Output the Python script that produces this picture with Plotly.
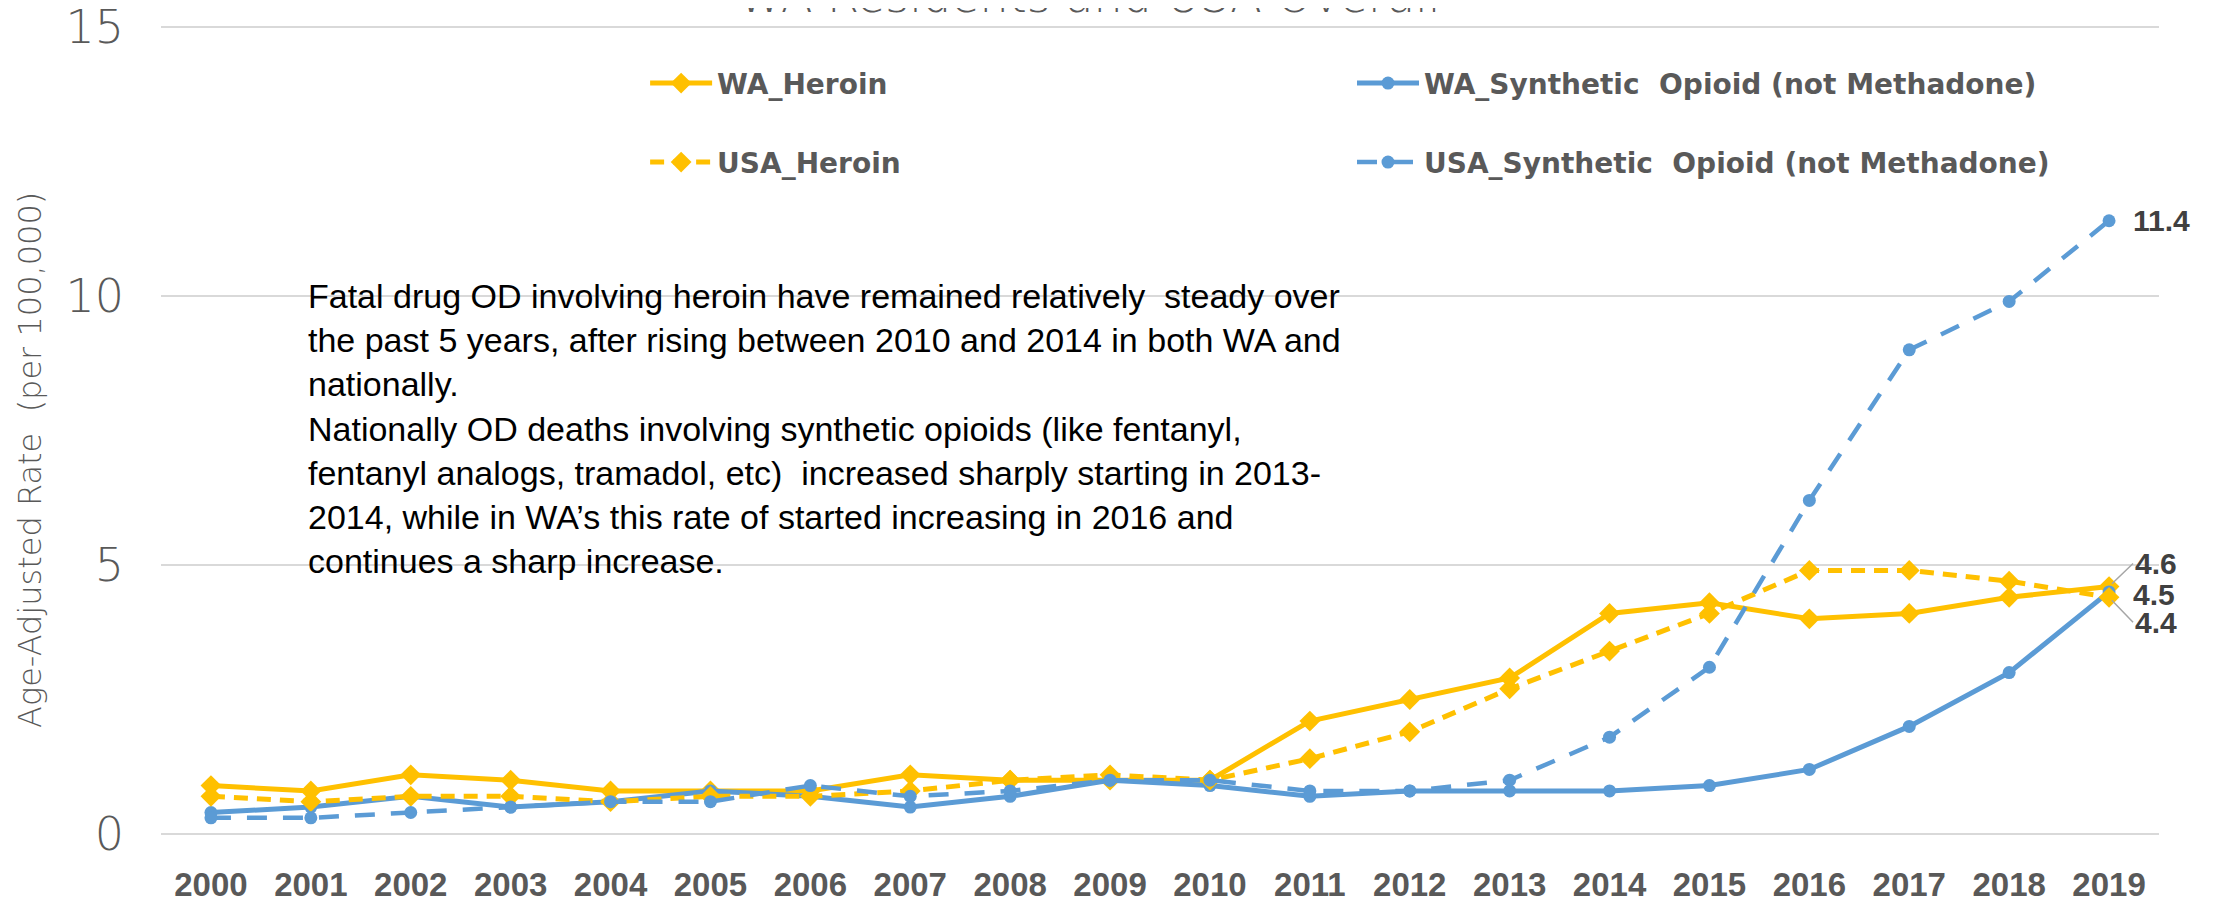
import plotly.graph_objects as go

years = ["2000", "2001", "2002", "2003", "2004", "2005", "2006", "2007", "2008", "2009",
         "2010", "2011", "2012", "2013", "2014", "2015", "2016", "2017", "2018", "2019"]

wa_heroin = [0.9, 0.8, 1.1, 1.0, 0.8, 0.8, 0.8, 1.1, 1.0, 1.0, 1.0, 2.1, 2.5, 2.9, 4.1, 4.3, 4.0, 4.1, 4.4, 4.6]
usa_heroin = [0.7, 0.6, 0.7, 0.7, 0.6, 0.7, 0.7, 0.8, 1.0, 1.1, 1.0, 1.4, 1.9, 2.7, 3.4, 4.1, 4.9, 4.9, 4.7, 4.4]
wa_synth = [0.4, 0.5, 0.7, 0.5, 0.6, 0.8, 0.7, 0.5, 0.7, 1.0, 0.9, 0.7, 0.8, 0.8, 0.8, 0.9, 1.2, 2.0, 3.0, 4.5]
usa_synth = [0.3, 0.3, 0.4, 0.5, 0.6, 0.6, 0.9, 0.7, 0.8, 1.0, 1.0, 0.8, 0.8, 1.0, 1.8, 3.1, 6.2, 9.0, 9.9, 11.4]

YELLOW = "#FFC000"
BLUE = "#5B9BD5"
GREY = "#595959"

note = ("Fatal drug OD involving heroin have remained relatively  steady over<br>"
        "the past 5 years, after rising between 2010 and 2014 in both WA and<br>"
        "nationally.<br>"
        "Nationally OD deaths involving synthetic opioids (like fentanyl,<br>"
        "fentanyl analogs, tramadol, etc)  increased sharply starting in 2013-<br>"
        "2014, while in WA\u2019s this rate of started increasing in 2016 and<br>"
        "continues a sharp increase.")

fig = go.Figure()

fig.add_trace(go.Scatter(x=years, y=wa_heroin, name="WA_Heroin", mode="lines+markers",
                         line=dict(color=YELLOW, width=5),
                         marker=dict(symbol="diamond", size=16, color=YELLOW), legend="legend"))
fig.add_trace(go.Scatter(x=years, y=wa_synth, name="WA_Synthetic  Opioid (not Methadone)", mode="lines+markers",
                         line=dict(color=BLUE, width=5),
                         marker=dict(symbol="circle", size=13, color=BLUE), legend="legend2"))
fig.add_trace(go.Scatter(x=years, y=usa_heroin, name="USA_Heroin", mode="lines+markers",
                         line=dict(color=YELLOW, width=5, dash="14px,9px"),
                         marker=dict(symbol="diamond", size=16, color=YELLOW), legend="legend3"))
fig.add_trace(go.Scatter(x=years, y=usa_synth, name="USA_Synthetic  Opioid (not Methadone)", mode="lines+markers",
                         line=dict(color=BLUE, width=4.5, dash="20px,16px"),
                         marker=dict(symbol="circle", size=13, color=BLUE), legend="legend4"))

leg_font = dict(family="DejaVu Sans", size=28, color=GREY, weight="bold")
leg_common = dict(orientation="h", font=leg_font, bgcolor="rgba(0,0,0,0)", yanchor="middle", xanchor="left",
                  itemwidth=62)

lab_font = dict(family="Liberation Sans", size=30, color="#404040", weight="bold")
light = dict(family="DejaVu Sans", weight=200, color=GREY)
last = len(years) - 1

# page body has an 8px margin, so the figure is 8px smaller than the window
fig.update_layout(
    width=2213, height=894,
    paper_bgcolor="white", plot_bgcolor="white",
    margin=dict(l=153, r=62, t=18, b=68),
    showlegend=True,
    legend=dict(x=0.2423, y=0.929, **leg_common),
    legend2=dict(x=0.5961, y=0.929, **leg_common),
    legend3=dict(x=0.2423, y=0.8312, **leg_common),
    legend4=dict(x=0.5961, y=0.8312, **leg_common),
    xaxis=dict(type="category", range=[-0.5, 19.5], autorange=False, automargin=False,
               showgrid=False, showline=False, zeroline=False, ticks="", ticklabelstandoff=28,
               tickfont=dict(family="Liberation Sans", size=33, color=GREY, weight="bold")),
    yaxis=dict(range=[0, 15.02], autorange=False, automargin=False, tickvals=[0, 5, 10, 15],
               showgrid=True, gridcolor="#D9D9D9", gridwidth=2,
               zeroline=True, zerolinecolor="#D9D9D9", zerolinewidth=2, showline=False,
               ticks="", ticklabelstandoff=36, ticklabeloverflow="allow",
               tickfont=dict(size=46, **light)),
    annotations=[
        dict(text="WA Residents and USA Overall", xref="paper", yref="paper", x=0.4645, y=1.0012,
             xanchor="center", yanchor="bottom", showarrow=False, font=dict(size=46, **light)),
        dict(text="Age-Adjusted Rate \u00a0(per 100,000)", xref="paper", yref="paper", x=-0.0656, y=0.4629,
             xanchor="center", yanchor="middle", textangle=-90, showarrow=False, font=dict(size=32, **light)),
        dict(text=note, xref="paper", yref="paper", x=0.0726, y=0.692, xanchor="left", yanchor="top",
             align="left", showarrow=False,
             font=dict(family="Liberation Sans", size=34, color="black")),
        dict(text=f"{usa_synth[-1]:.1f}", x=last, y=usa_synth[-1], xanchor="left", xshift=22,
             showarrow=False, font=lab_font),
        dict(text=f"{wa_heroin[-1]:.1f}", x=last, y=wa_heroin[-1], xanchor="left", ax=24, ay=-23,
             showarrow=True, arrowhead=0, arrowwidth=1.5, arrowcolor="#A6A6A6", standoff=4, font=lab_font),
        dict(text=f"{wa_synth[-1]:.1f}", x=last, y=wa_synth[-1], xanchor="left", xshift=22, yshift=-3,
             showarrow=False, font=lab_font),
        dict(text=f"{usa_heroin[-1]:.1f}", x=last, y=usa_heroin[-1], xanchor="left", ax=24, ay=25,
             showarrow=True, arrowhead=0, arrowwidth=1.5, arrowcolor="#A6A6A6", standoff=4, font=lab_font),
    ],
)

fig.write_html("out.html")
